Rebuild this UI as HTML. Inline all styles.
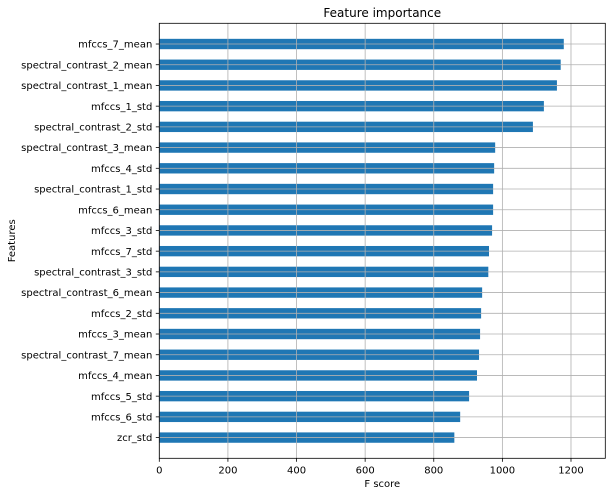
<!DOCTYPE html>
<html><head><meta charset="utf-8"><style>
html,body{margin:0;padding:0;background:#fff;}
svg{display:block;font-family:"DejaVu Sans","Liberation Sans",sans-serif;}
</style></head><body>
<svg id="chart" width="616" height="496" viewBox="0 0 616 496" xmlns="http://www.w3.org/2000/svg"></svg>
<script>
const categories = ["mfccs_7_mean","spectral_contrast_2_mean","spectral_contrast_1_mean","mfccs_1_std","spectral_contrast_2_std","spectral_contrast_3_mean","mfccs_4_std","spectral_contrast_1_std","mfccs_6_mean","mfccs_3_std","mfccs_7_std","spectral_contrast_3_std","spectral_contrast_6_mean","mfccs_2_std","mfccs_3_mean","spectral_contrast_7_mean","mfccs_4_mean","mfccs_5_std","mfccs_6_std","zcr_std"];
const values = [1179,1170,1159,1121,1089,979,976,973,973,970,961,959,941,938,935,932,926,903,877,860];
const xTicks = [0,200,400,600,800,1000,1200];

const NS = "http://www.w3.org/2000/svg";
const svg = document.getElementById("chart");
const L = 159.3, R = 605.3, T = 23.3, B = 458.3;
const xMax = 1300;
function x(v){ return L + v/xMax*(R-L); }
function y(i){ return T + (i+1)*(B-T)/(categories.length+1); }
function el(tag, attrs, parent){
  const e = document.createElementNS(NS, tag);
  for (const k in attrs) e.setAttribute(k, attrs[k]);
  (parent||svg).appendChild(e);
  return e;
}
const barH = 0.5*(B-T)/(categories.length+1);

// bars
categories.forEach((c,i)=>{
  const r = el("rect",{x:L,y:y(i)-barH/2,width:x(values[i])-L,height:barH,fill:"#1f77b4"});
  
  
});
// gridlines
xTicks.forEach(t=>{
  const g = el("line",{x1:x(t),x2:x(t),y1:T,y2:B,stroke:"#b0b0b0","stroke-width":0.8});
  
  
});
categories.forEach((c,i)=>{
  const g = el("line",{x1:L,x2:R,y1:y(i),y2:y(i),stroke:"#b0b0b0","stroke-width":0.8});
  
  
});
// frame
const fr = el("rect",{x:L,y:T,width:R-L,height:B-T,fill:"none",stroke:"#000","stroke-width":0.8});


// x ticks
xTicks.forEach(t=>{
  el("line",{x1:x(t),x2:x(t),y1:B,y2:B+3.5,stroke:"#000","stroke-width":0.8});
  const tx = el("text",{x:x(t),y:B+15,"font-size":10,"text-anchor":"middle",fill:"#000"});
  tx.textContent = t;
  
  
});
// y ticks
categories.forEach((c,i)=>{
  el("line",{x1:L-3.5,x2:L,y1:y(i),y2:y(i),stroke:"#000","stroke-width":0.8});
  const tx = el("text",{x:L-7,y:y(i)+3.6,"font-size":10,"text-anchor":"end",fill:"#000"});
  tx.textContent = c;
  
  
});
const title = el("text",{x:(L+R)/2,y:17,"font-size":12,"text-anchor":"middle",fill:"#000"});
title.textContent = "Feature importance";


const xl = el("text",{x:(L+R)/2,y:487,"font-size":10,"text-anchor":"middle",fill:"#000"});
xl.textContent = "F score";


const yl = el("text",{x:15,y:(T+B)/2,"font-size":10,"text-anchor":"middle",fill:"#000",transform:"rotate(-90 15 "+((T+B)/2)+")"});
yl.textContent = "Features";


</script>
</body></html>
